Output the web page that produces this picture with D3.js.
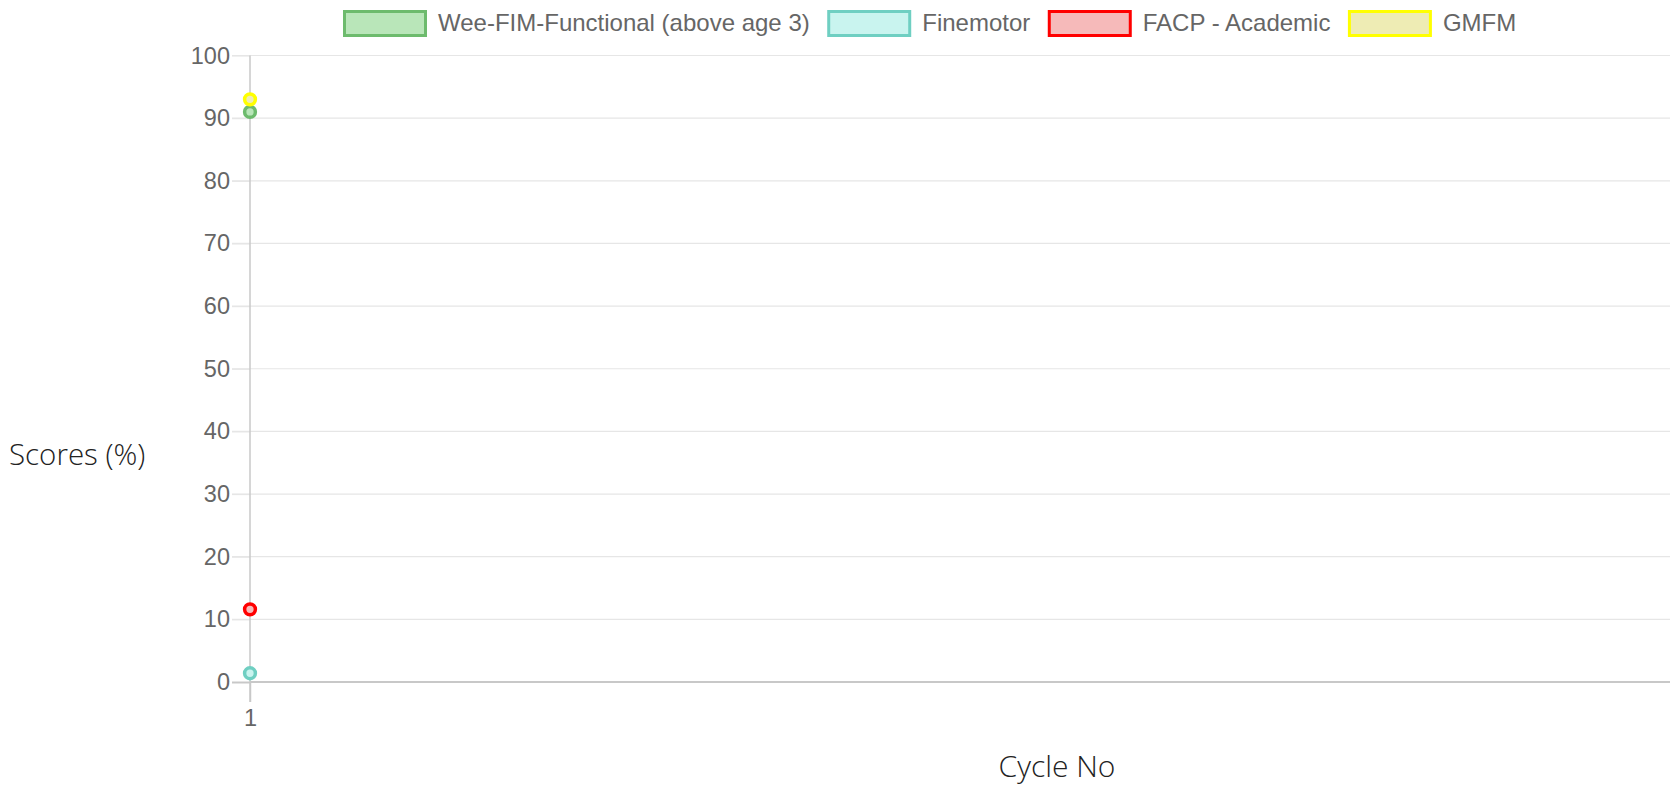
<!DOCTYPE html>
<html>
<head>
<meta charset="utf-8">
<script src="https://cdn.jsdelivr.net/npm/d3@7"></script>
<style>
  html, body { margin: 0; padding: 0; background: #fff; }
  svg { display: block; }
</style>
</head>
<body>
<svg id="chart" width="1670" height="788"></svg>
<script>
// ---- data ----
const cycles = ["1"];
const seriesNames = ["Wee-FIM-Functional (above age 3)", "Finemotor", "FACP - Academic", "GMFM"];
const weeFimValues = [91];
const finemotorValues = [1.4];
const facpValues = [11.6];
const gmfmValues = [93];
const yTicks = [0, 10, 20, 30, 40, 50, 60, 70, 80, 90, 100];

// ---- styles ----
const strokeColors = ["#6dbb6d", "#6fcfc2", "#ff0000", "#ffff00"];
const fillColors = ["#b9e6b9", "#c9f4ef", "#f6baba", "#eeecb4"];
const seriesValues = [weeFimValues, finemotorValues, facpValues, gmfmValues];

const svg = d3.select("#chart");
const plotLeft = 250, plotRight = 1866, plotTop = 55.5, plotBottom = 682;

const x = d3.scalePoint().domain(cycles).range([plotLeft, plotRight]).padding(0).align(0);
const y = d3.scaleLinear().domain([0, 100]).range([plotBottom, plotTop]);

const tickFont = "'Liberation Sans', Arial, sans-serif";
const tickSizePx = "23.5px";

// horizontal grid lines
svg.append("g").selectAll("line").data(yTicks.filter(d => d !== 0)).join("line")
  .attr("x1", plotLeft - 18).attr("x2", 1670)
  .attr("y1", d => y(d)).attr("y2", d => y(d))
  .attr("stroke", "#e6e6e6").attr("stroke-width", 1.2);

// y axis
const yAxis = d3.axisLeft(y).tickValues(yTicks).tickSize(18).tickPadding(2);
const gy = svg.append("g").attr("transform", `translate(${plotLeft},0)`).call(yAxis);
gy.select(".domain").remove();
gy.selectAll(".tick line").attr("stroke", d => d === 0 ? "#c8c8c8" : "#e6e6e6").attr("stroke-width", d => d === 0 ? 2 : 1.2);
gy.selectAll(".tick text").attr("fill", "#666").style("font-family", tickFont).style("font-size", tickSizePx);
// vertical axis line
svg.append("line").attr("x1", plotLeft).attr("x2", plotLeft).attr("y1", plotTop).attr("y2", plotBottom + 20)
  .attr("stroke", "#c8c8c8").attr("stroke-width", 1.5);
// zero line
svg.append("line").attr("x1", plotLeft).attr("x2", 1670).attr("y1", y(0)).attr("y2", y(0))
  .attr("stroke", "#c8c8c8").attr("stroke-width", 2);

// x axis
const xAxis = d3.axisBottom(x).tickSize(20).tickPadding(7);
const gx = svg.append("g").attr("transform", `translate(0,${plotBottom})`).call(xAxis);
gx.select(".domain").remove();
gx.selectAll(".tick line").attr("stroke", "#c8c8c8").attr("stroke-width", 1.5);
gx.selectAll(".tick text").attr("fill", "#666").style("font-family", tickFont).style("font-size", tickSizePx);

// axis titles
const titleFont = "'Open Sans', 'Noto Sans', sans-serif";
svg.append("text").attr("x", 9).attr("y", 465).text("Scores (%)")
  .attr("fill", "#222").style("font-family", titleFont).style("font-size", "29.5px").style("font-weight", 300);
svg.append("text").attr("x", 1057).attr("y", 777).attr("text-anchor", "middle").text("Cycle No")
  .attr("fill", "#222").style("font-family", titleFont).style("font-size", "30px").style("font-weight", 300);

// points
seriesValues.forEach((vals, i) => {
  svg.append("g").selectAll("circle").data(vals).join("circle")
    .attr("cx", (d, j) => x(cycles[j]))
    .attr("cy", d => y(d))
    .attr("r", 5.4)
    .attr("fill", fillColors[i])
    .attr("stroke", strokeColors[i])
    .attr("stroke-width", 3.5);
});

// legend
const legend = svg.append("g");
let lx = 343;
seriesNames.forEach((name, i) => {
  legend.append("rect").attr("x", lx + 1.5).attr("y", 11.5).attr("width", 81).attr("height", 24)
    .attr("fill", fillColors[i]).attr("stroke", strokeColors[i]).attr("stroke-width", 3);
  const t = legend.append("text").attr("x", lx + 95).attr("y", 30.5)
    .text(name).attr("fill", "#666").style("font-family", tickFont).style("font-size", "24px");
  lx += 95 + t.node().getComputedTextLength() + 17.5;
});
</script>
</body>
</html>
